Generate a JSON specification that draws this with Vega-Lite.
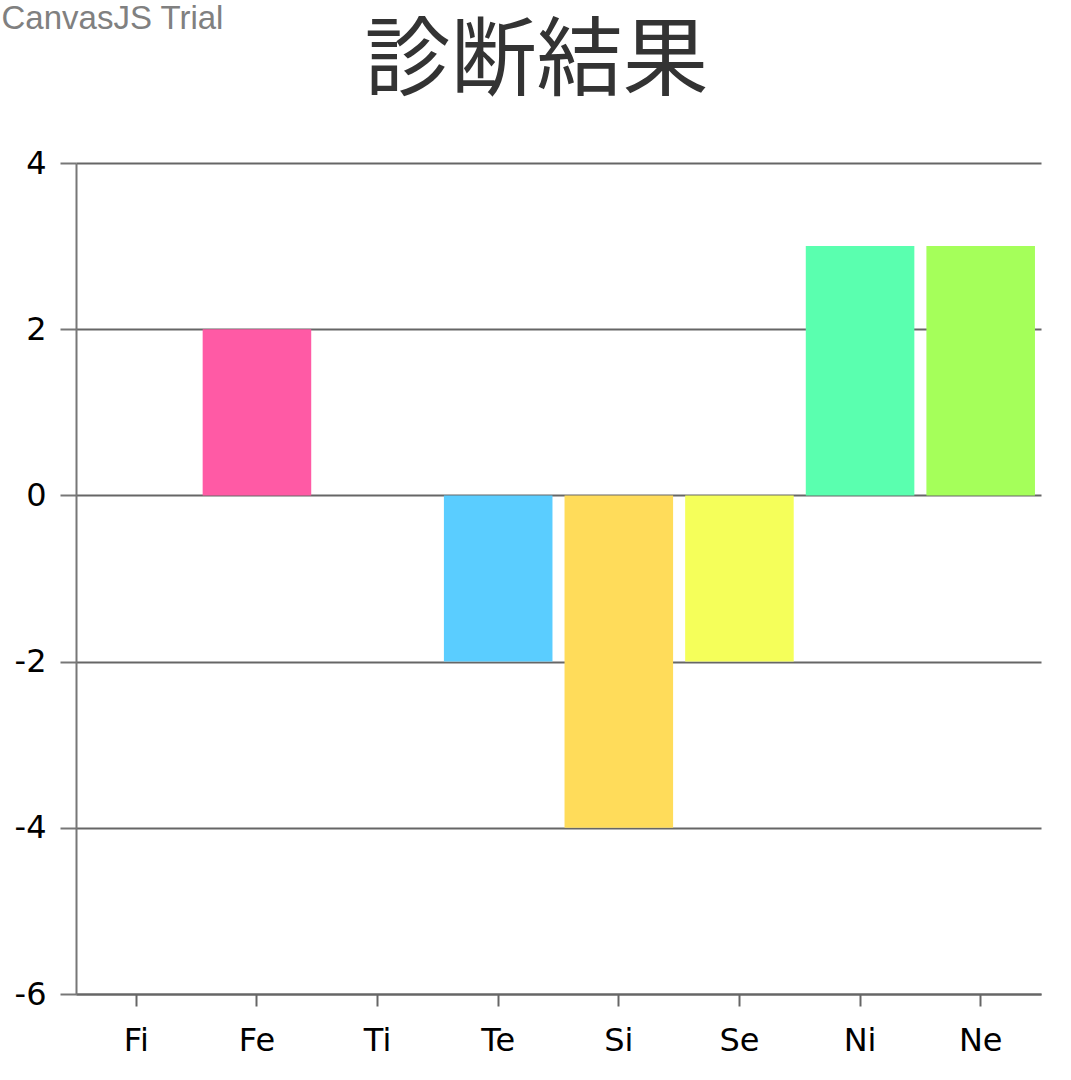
{
  "$schema": "https://vega.github.io/schema/vega-lite/v6.json",
  "width": 965,
  "height": 831,
  "autosize": {"type": "none"},
  "padding": {"left": 76, "top": 163, "right": 30, "bottom": 86},
  "background": "white",
  "title": {
    "text": "診断結果",
    "anchor": "middle",
    "font": "Noto Sans CJK JP",
    "fontSize": 86,
    "fontWeight": "normal",
    "color": "#333333",
    "offset": -105,
    "dx": -22
  },
  "data": {
    "values": [
      {"name": "Fi", "value": 0},
      {"name": "Fe", "value": 2},
      {"name": "Ti", "value": 0},
      {"name": "Te", "value": -2},
      {"name": "Si", "value": -4},
      {"name": "Se", "value": -2},
      {"name": "Ni", "value": 3},
      {"name": "Ne", "value": 3}
    ]
  },
  "mark": {"type": "bar"},
  "encoding": {
    "x": {
      "field": "name",
      "type": "nominal",
      "sort": null,
      "scale": {"paddingInner": 0.1, "paddingOuter": 0.05},
      "axis": {
        "title": null,
        "labelAngle": 0,
        "labelFont": "DejaVu Sans",
        "labelFontSize": 32,
        "labelColor": "#000000",
        "labelPadding": 19,
        "tickSize": 12,
        "tickWidth": 2,
        "tickColor": "#666666",
        "domainColor": "#666666",
        "domainWidth": 2,
        "grid": false
      }
    },
    "y": {
      "field": "value",
      "type": "quantitative",
      "scale": {"domain": [-6, 4], "nice": false, "zero": false},
      "axis": {
        "values": [-6, -4, -2, 0, 2, 4],
        "labelExpr": "toString(datum.value)",
        "title": "CanvasJS Trial",
        "titleAngle": 0,
        "titleAlign": "left",
        "titleBaseline": "top",
        "titleX": -75,
        "titleY": -161,
        "titleFont": "Liberation Sans",
        "titleFontSize": 33,
        "titleFontWeight": "normal",
        "titleColor": "#808080",
        "labelFont": "DejaVu Sans",
        "labelFontSize": 32,
        "labelColor": "#000000",
        "labelPadding": 14,
        "tickSize": 16,
        "tickWidth": 2,
        "tickColor": "#777777",
        "domainColor": "#777777",
        "domainWidth": 2,
        "grid": true,
        "gridColor": "#666666",
        "gridWidth": 2
      }
    },
    "color": {
      "field": "name",
      "type": "nominal",
      "scale": {
        "domain": ["Fi", "Fe", "Ti", "Te", "Si", "Se", "Ni", "Ne"],
        "range": ["#FF5A5A", "#FF5AA5", "#A55AFF", "#5ACDFF", "#FFDC5A", "#F5FF5A", "#5AFFAF", "#A5FF5A"]
      },
      "legend": null
    }
  },
  "config": {
    "view": {"stroke": null}
  }
}
